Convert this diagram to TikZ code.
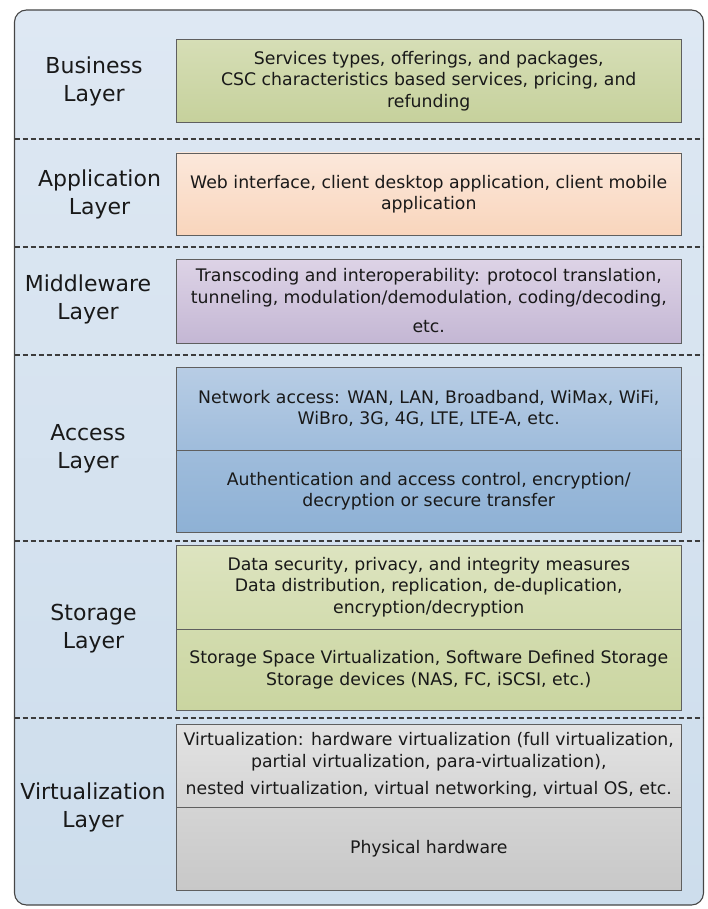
\documentclass[tikz,border=0pt]{standalone}
\usepackage{fontspec}
\setmainfont{DejaVu Sans}
\definecolor{bgtop}{RGB}{222,232,243}
\definecolor{bgbot}{RGB}{205,221,236}
\definecolor{outline}{RGB}{70,70,70}
\definecolor{boxline}{RGB}{95,95,95}
\definecolor{sepline}{RGB}{60,60,60}
\definecolor{txt}{RGB}{25,25,25}
\definecolor{biztop}{RGB}{214,222,182}
\definecolor{bizbot}{RGB}{198,209,156}
\definecolor{apptop}{RGB}{251,232,219}
\definecolor{appbot}{RGB}{249,213,188}
\definecolor{midtop}{RGB}{221,211,230}
\definecolor{midbot}{RGB}{196,183,212}
\definecolor{acctop}{RGB}{184,205,229}
\definecolor{accbot}{RGB}{142,177,213}
\definecolor{stotop}{RGB}{221,228,192}
\definecolor{stobot}{RGB}{202,213,160}
\definecolor{virtop}{RGB}{227,227,227}
\definecolor{virbot}{RGB}{200,200,200}
\begin{document}
\begin{tikzpicture}[x=1pt,y=-1pt,
  boxstyle/.style={draw=boxline, line width=0.9pt, minimum width=504.5pt, inner sep=0pt,
    align=center, text=txt, font=\fontsize{17.3}{21.5}\selectfont},
  lbl/.style={align=center, text=txt, inner sep=0pt, font=\fontsize{22}{28}\selectfont},
  sepline/.style={draw=sepline, line width=2pt, dash pattern=on 5pt off 3pt}
]
\useasboundingbox (0,0) rectangle (708,909);
\node[draw=outline, line width=1.1pt, rounded corners=12pt, top color=bgtop, bottom color=bgbot,
  minimum width=689pt, minimum height=895pt, inner sep=0pt] (frame) at (359,457.5) {};

% separators
\foreach \yy/\nm in {139/s1,247/s2,355/s3,541/s4,718/s5}{
  \coordinate (\nm a) at (14.6,\yy);
  \coordinate (\nm b) at (703.4,\yy);
  \draw[sepline] (\nm a) -- (\nm b);
}

% boxes
\node[boxstyle, minimum height=82.5pt, top color=biztop, bottom color=bizbot] (biz) at (428.75,80.75)
  {Services types, offerings, and packages,\\CSC characteristics based services, pricing, and\\refunding};
\node[boxstyle, minimum height=82pt, top color=apptop, bottom color=appbot] (app) at (428.75,194)
  {Web interface, client desktop application, client mobile\\application};
\node[boxstyle, minimum height=84pt, top color=midtop, bottom color=midbot] (mid) at (428.75,301)
  {Transcoding and interoperability: protocol translation,\\tunneling, modulation/demodulation, coding/decoding,\\[8pt]etc.};
\node[boxstyle, minimum height=83pt, top color=acctop, bottom color=accbot!60!acctop] (acc1) at (428.75,408.5)
  {Network access: WAN, LAN, Broadband, WiMax, WiFi,\\WiBro, 3G, 4G, LTE, LTE-A, etc.};
\node[boxstyle, minimum height=82pt, top color=accbot!60!acctop, bottom color=accbot] (acc2) at (428.75,491)
  {Authentication and access control, encryption/\\decryption or secure transfer};
\node[boxstyle, minimum height=84pt, top color=stotop, bottom color=stobot!55!stotop] (sto1) at (428.75,587)
  {Data security, privacy, and integrity measures\\Data distribution, replication, de-duplication,\\encryption/decryption};
\node[boxstyle, minimum height=81pt, top color=stobot!55!stotop, bottom color=stobot] (sto2) at (428.75,669.5)
  {Storage Space Virtualization, Software Defined Storage\\Storage devices (NAS, FC, iSCSI, etc.)};
\node[boxstyle, minimum height=83pt, top color=virtop, bottom color=virbot!55!virtop] (vir1) at (428.75,765.5)
  {Virtualization: hardware virtualization (full virtualization,\\partial virtualization, para-virtualization),\\[6pt]nested virtualization, virtual networking, virtual OS, etc.};
\node[boxstyle, minimum height=83pt, top color=virbot!55!virtop, bottom color=virbot] (vir2) at (428.75,848.5)
  {Physical hardware};

% labels
\node[lbl] (lbiz) at (94,81) {Business\\Layer};
\node[lbl] (lapp) at (99.5,194.5) {Application\\Layer};
\node[lbl] (lmid) at (88,299.5) {Middleware\\Layer};
\node[lbl] (lacc) at (88,449) {Access\\Layer};
\node[lbl] (lsto) at (93.5,628.5) {Storage\\Layer};
\node[lbl] (lvir) at (93,807.5) {Virtualization\\Layer};
\end{tikzpicture}
\end{document}
